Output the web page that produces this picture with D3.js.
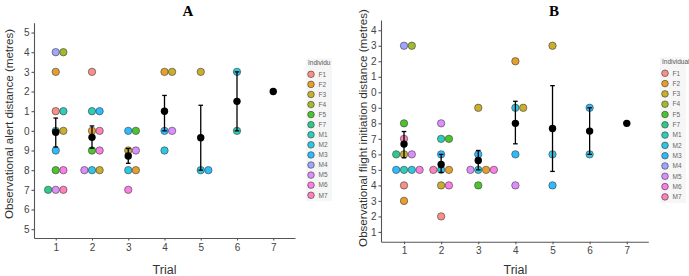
<!DOCTYPE html>
<html>
<head>
<meta charset="utf-8">
<script src="https://cdn.jsdelivr.net/npm/d3@7"></script>
<style>
  body { margin: 0; background: #fff; }
  svg { display: block; }
  .axis path, .axis line { stroke: #555; stroke-width: 1.1; }
  .axis text { fill: #444; font-family: "Liberation Sans", Arial, sans-serif; font-size: 10px; }
</style>
</head>
<body>
<script>
// individuals + ggplot hue colours
var individuals = ["F1","F2","F3","F4","F5","F7","M1","M2","M3","M4","M5","M6","M7"];
var indColors = ["#F8766D","#E18A00","#BE9C00","#8CAB00","#24B700","#00BE70","#00C1AB",
                 "#00BBDA","#00ACFC","#8B93FF","#D575FE","#F962DD","#FF65AC"];

var trials = [1, 2, 3, 4, 5, 6, 7];

// panel A : alert distance  [trial, value, individual, dodge slot]
var alertPoints = [
  [1,14,"M4",0],[1,14,"F4",1],[1,13,"F2",0],[1,11,"F1",0],[1,11,"M1",1],
  [1,10,"M2",0],[1,10,"F3",1],[1,9,"M3",0],[1,8,"F5",0],[1,8,"M6",1],
  [1,7,"F7",-1],[1,7,"M5",0],[1,7,"M7",1],
  [2,13,"F1",0],[2,11,"M1",0],[2,11,"M3",1],[2,10,"F2",0],[2,10,"M7",1],
  [2,9,"F5",0],[2,9,"M6",1],[2,8,"M5",-1],[2,8,"M2",0],[2,8,"F3",1],
  [3,10,"M3",0],[3,10,"F5",1],[3,9,"F3",0],[3,9,"M5",1],[3,8,"M2",0],[3,8,"F2",1],
  [3,7,"M6",0],
  [4,13,"F2",0],[4,13,"F3",1],[4,10,"M3",0],[4,10,"M5",1],[4,9,"M2",0],
  [5,13,"F3",0],[5,8,"M2",0],[5,8,"M3",1],
  [6,13,"M2",0],[6,10,"M1",0]
];
var alertMean = [9.93, 9.67, 8.72, 11, 9.65, 11.5, 12];
var alertLow  = [9.18, 9.12, 8.35, 10, 8, 10, null];
var alertHigh = [10.65, 10.25, 9.1, 11.8, 11.3, 13, null];
var alertTicks = [5,6,7,8,9,10,11,12,13,14,15];
var alertTickLabels = ["5","6","7","8","9","0","1","2","3","4","5"];

// panel B : flight initiation distance
var fidPoints = [
  [1,13,"M4",0],[1,13,"F4",1],[1,8,"F5",0],[1,7,"M7",0],
  [1,6,"F7",-1],[1,6,"F3",0],[1,6,"M5",1],
  [1,5,"M3",-1],[1,5,"M1",0],[1,5,"M2",1],[1,5,"M6",2],
  [1,4,"F1",0],[1,3,"F2",0],
  [2,8,"M5",0],[2,7,"M1",0],[2,7,"F5",1],[2,6,"M3",0],
  [2,5,"M7",-1],[2,5,"M2",0],[2,5,"F2",1],[2,4,"F3",0],[2,4,"M6",1],[2,2,"F1",0],
  [3,9,"F3",0],[3,6,"M3",0],[3,5,"M5",-1],[3,5,"M2",0],[3,5,"F2",1],[3,5,"M6",2],
  [3,4,"F5",0],
  [4,12,"F2",0],[4,9,"M2",0],[4,9,"F3",1],[4,6,"M3",0],[4,4,"M5",0],
  [5,13,"F3",0],[5,6,"M2",0],[5,4,"M3",0],
  [6,9,"M3",0],[6,6,"M2",0]
];
var fidMean = [6.66, 5.35, 5.6, 8, 7.67, 7.5, 8];
var fidLow  = [5.78, 4.84, 5.0, 6.68, 4.9, 6, null];
var fidHigh = [7.47, 6.0, 6.25, 9.42, 10.43, 9, null];
var fidTicks = [1,2,3,4,5,6,7,8,9,10,11,12,13,14];
var fidTickLabels = ["1","2","3","4","5","6","7","8","9","0","1","2","3","4"];

var color = d3.scaleOrdinal().domain(individuals).range(indColors);

var svg = d3.select("body").append("svg")
  .attr("width", 689).attr("height", 276);

var panels = [
  {title: "A", titleX: 188, points: alertPoints, mean: alertMean, low: alertLow, high: alertHigh,
   ticks: alertTicks, tickLabels: alertTickLabels,
   xDomain: [0.4, 7.6], xRange: [34, 295], yDomain: [4.55, 15.5], yRange: [238, 22.7],
   yTitle: "Observational alert distance (metres)", yTitleX: 9, yTitleY: 124,
   legTitle: "Individu", legX: 311, legY: 74.3, legStep: 10.08},
  {title: "B", titleX: 554, points: fidPoints, mean: fidMean, low: fidLow, high: fidHigh,
   ticks: fidTicks, tickLabels: fidTickLabels,
   xDomain: [0.38, 7.58], xRange: [381, 648.3], yDomain: [0.37, 14.66], yRange: [241.7, 20],
   yTitle: "Observational flight initiation distance (metres)", yTitleX: 363, yTitleY: 128,
   legTitle: "Individual", legX: 665, legY: 73.3, legStep: 10.3}
];

var dodge = 0.21;

panels.forEach(function(p){
  var x = d3.scaleLinear().domain(p.xDomain).range(p.xRange);
  var y = d3.scaleLinear().domain(p.yDomain).range(p.yRange);
  var g = svg.append("g");

  // axes
  g.append("g").attr("class", "axis")
    .attr("transform", "translate(0," + p.yRange[0] + ")")
    .call(d3.axisBottom(x).tickValues(trials).tickSize(2.5).tickSizeOuter(0).tickPadding(3));
  g.append("g").attr("class", "axis")
    .attr("transform", "translate(" + p.xRange[0] + ",0)")
    .call(d3.axisLeft(y).tickValues(p.ticks).tickSize(2.5).tickSizeOuter(0).tickPadding(2)
      .tickFormat(function(d, i){ return p.tickLabels[i]; }));

  // individual points
  g.append("g").selectAll("circle")
    .data(p.points).enter().append("circle")
    .attr("cx", function(d){ return x(d[0] + d[3] * dodge); })
    .attr("cy", function(d){ return y(d[1]); })
    .attr("r", 3.7)
    .attr("fill", function(d){ return color(d[2]); })
    .attr("fill-opacity", 0.82)
    .attr("stroke", "#3a3a3a")
    .attr("stroke-width", 0.6);

  // error bars
  var eb = trials.map(function(t, i){ return {t: t, lo: p.low[i], hi: p.high[i]}; })
    .filter(function(d){ return d.lo != null; });
  var ebg = g.append("g").attr("stroke", "#000").attr("stroke-width", 1.3);
  ebg.selectAll(".v").data(eb).enter().append("line")
    .attr("x1", function(d){ return x(d.t); }).attr("x2", function(d){ return x(d.t); })
    .attr("y1", function(d){ return y(d.lo); }).attr("y2", function(d){ return y(d.hi); });
  ["lo", "hi"].forEach(function(k){
    ebg.selectAll(".c" + k).data(eb).enter().append("line")
      .attr("x1", function(d){ return x(d.t) - 2.3; }).attr("x2", function(d){ return x(d.t) + 2.3; })
      .attr("y1", function(d){ return y(d[k]); }).attr("y2", function(d){ return y(d[k]); });
  });

  // means
  g.append("g").selectAll("circle")
    .data(p.mean).enter().append("circle")
    .attr("cx", function(d, i){ return x(trials[i]); })
    .attr("cy", function(d){ return y(d); })
    .attr("r", 3.7)
    .attr("fill", "#000");

  // titles
  g.append("text").attr("x", p.titleX).attr("y", 16)
    .attr("text-anchor", "middle")
    .style("font-family", "'Liberation Serif', 'Times New Roman', serif")
    .style("font-weight", "bold").style("font-size", "15px")
    .text(p.title);
  g.append("text")
    .attr("transform", "translate(" + p.yTitleX + "," + p.yTitleY + ") rotate(-90)")
    .attr("text-anchor", "middle").attr("dy", "0.35em")
    .style("font-family", "'Liberation Sans', Arial, sans-serif").style("font-size", "11.6px")
    .attr("fill", "#333")
    .text(p.yTitle);
  g.append("text")
    .attr("x", (x(1) + x(7)) / 2).attr("y", 274)
    .attr("text-anchor", "middle")
    .style("font-family", "'Liberation Sans', Arial, sans-serif").style("font-size", "12.5px")
    .attr("fill", "#333")
    .text("Trial");

  // legend
  var lg = g.append("g");
  lg.append("rect")
    .attr("x", p.legX - 5).attr("y", p.legY - 16)
    .attr("width", 26).attr("height", p.legStep * 12 + 22)
    .attr("fill", "#f6f6f6");
  lg.append("text").attr("x", p.legX - 3).attr("y", p.legY - 9)
    .style("font-family", "'Liberation Sans', Arial, sans-serif").style("font-size", "6.5px")
    .attr("fill", "#555").text(p.legTitle);
  var items = lg.selectAll(".item").data(individuals).enter().append("g")
    .attr("transform", function(d, i){ return "translate(" + p.legX + "," + (p.legY + i * p.legStep) + ")"; });
  items.append("circle").attr("r", 3.3)
    .attr("fill", function(d){ return color(d); }).attr("fill-opacity", 0.82)
    .attr("stroke", "#3a3a3a").attr("stroke-width", 0.6);
  items.append("text").attr("x", 7.5).attr("dy", "0.35em")
    .style("font-family", "'Liberation Sans', Arial, sans-serif").style("font-size", "6.5px")
    .attr("fill", "#666").text(function(d){ return d; });
});
</script>
</body>
</html>
